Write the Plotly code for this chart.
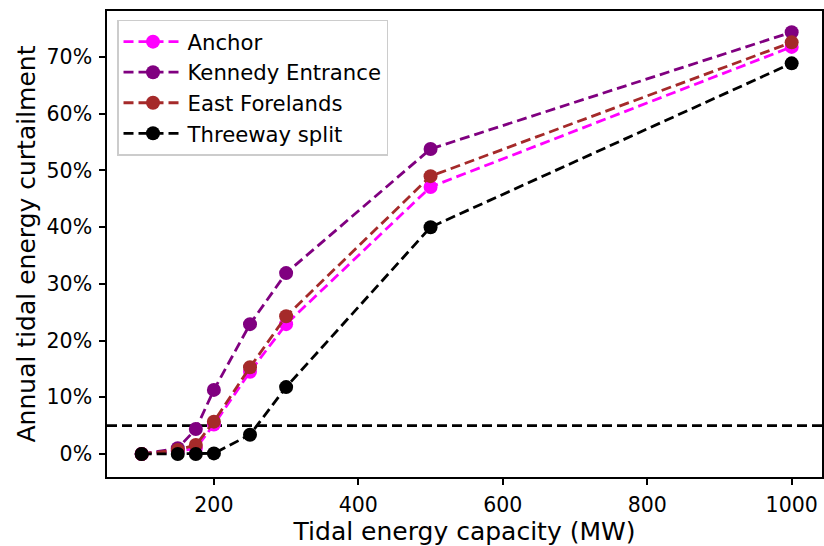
import plotly.graph_objects as go

capacity = [100, 150, 175, 200, 250, 300, 500, 1000]
anchor = [0.000, 0.005, 0.010, 0.052, 0.145, 0.229, 0.471, 0.718]
kennedy = [0.000, 0.010, 0.044, 0.113, 0.229, 0.319, 0.538, 0.744]
east_forelands = [0.000, 0.007, 0.016, 0.057, 0.153, 0.243, 0.490, 0.726]
threeway = [0.000, 0.000, 0.000, 0.001, 0.034, 0.118, 0.400, 0.689]
threshold = 0.05

series = [
    ("Anchor", anchor, "#FF00FF"),
    ("Kennedy Entrance", kennedy, "#800080"),
    ("East Forelands", east_forelands, "#A52A2A"),
    ("Threeway split", threeway, "#000000"),
]

FONT = "DejaVu Sans"
fig = go.Figure()
for i, (name, vals, col) in enumerate(series):
    fig.add_trace(go.Scatter(
        x=capacity, y=vals, name=name, mode="lines+markers",
        line=dict(color=col, width=2.8, dash="10px,5px"),
        marker=dict(color=col, size=14),
        legendgroup=f"g{i}",
    ))

fig.add_shape(type="line", xref="paper", x0=0, x1=1, yref="y", y0=threshold, y1=threshold,
              line=dict(color="black", width=2.8, dash="10px,5px"), layer="below")

fig.update_layout(
    width=824, height=546,
    margin=dict(l=107, r=0, t=11, b=69),
    paper_bgcolor="white", plot_bgcolor="white",
    font=dict(family=FONT, size=20.5, color="black"),
    showlegend=True,
    legend=dict(
        x=0.014, y=0.981, xanchor="left", yanchor="top",
        bgcolor="rgba(255,255,255,0.8)", bordercolor="#cccccc", borderwidth=1.5,
        font=dict(family=FONT, size=21.2), traceorder="grouped", tracegroupgap=0,
        itemwidth=59,
    ),
    xaxis=dict(
        range=[52, 1042], tickvals=[200, 400, 600, 800, 1000],
        showline=True, linecolor="black", linewidth=1.5, mirror=True,
        ticks="outside", ticklen=6, tickwidth=1.5, tickcolor="black",
        ticklabelstandoff=3,
        showgrid=False, zeroline=False,
        title=dict(text="Tidal energy capacity (MW)", font=dict(size=25), standoff=4),
    ),
    yaxis=dict(
        range=[-0.0406, 0.7813], tickvals=[0, 0.1, 0.2, 0.3, 0.4, 0.5, 0.6, 0.7],
        tickformat=".0%",
        showline=True, linecolor="black", linewidth=1.5, mirror=True,
        ticks="outside", ticklen=6, tickwidth=1.5, tickcolor="black",
        ticklabelstandoff=3,
        showgrid=False, zeroline=False,
        title=dict(text="Annual tidal energy curtailment", font=dict(size=25), standoff=4),
    ),
)

fig.write_html("out.html")
